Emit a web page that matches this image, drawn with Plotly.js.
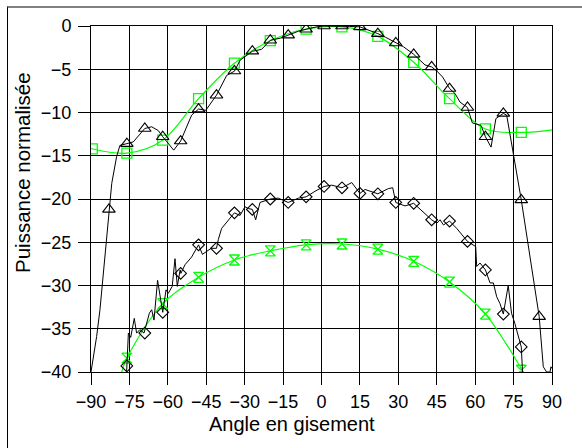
<!DOCTYPE html>
<html>
<head>
<meta charset="utf-8">
<script src="https://cdn.plot.ly/plotly-3.0.1.min.js"></script>
<style>
html,body{margin:0;padding:0;background:#fff;}
#wrap{position:relative;width:582px;height:448px;}
#chart{width:582px;height:448px;}
#frame{position:absolute;left:7px;top:6px;width:575px;height:442px;border-top:2px solid #808080;border-left:1px solid #000;pointer-events:none;box-sizing:border-box;}
</style>
</head>
<body>
<div id="wrap"><div id="chart"></div><div id="frame"></div></div>
<script>
// ---- Data ----
// Green smooth curve with square markers
const sqCurveX = [-90, -89.5, -76, -62, -48, -34, -20, -6, 8, 22, 36, 50, 64, 78, 90];
const sqCurveY = [-14.15, -14.2, -14.7, -13.2, -8.4, -4.3, -1.7, -0.35, -0.1, -1.2, -4.2, -8.4, -11.9, -12.3, -12.0];
const sqX = [-89.5, -76, -62, -48, -34, -20, -6, 8, 22, 36, 50, 64, 78];
const sqY = [-14.2, -14.7, -13.2, -8.4, -4.3, -1.7, -0.35, -0.1, -1.2, -4.2, -8.4, -11.9, -12.3];

// Black jagged curve with triangle markers
const triLineX = [-90, -87.8, -86.5, -84.5, -83, -81.9, -80, -78.7, -76, -73.5, -69, -66.3, -63.7, -62, -57.7, -55, -50.7, -48, -45.2, -41, -37, -34, -31.8, -27, -23.4, -20, -16, -13, -9, -6, -2, 1, 4, 8, 11, 15, 18, 22, 25, 29, 32, 36, 40.4, 43, 45, 47.3, 50, 52.1, 54.1, 57, 58.9, 62.3, 64, 66.2, 68.1, 71, 72.3, 78, 85, 86.6, 87.9, 89.2, 89.6, 90];
const triLineY = [-40, -35.9, -32.8, -26.3, -21.2, -18.2, -15.1, -13.8, -13.6, -13.4, -11.85, -11.65, -12.1, -12.8, -14.35, -13.3, -10.3, -9.6, -9.75, -8.0, -5.7, -5.23, -3.96, -2.92, -2.7, -1.65, -1.4, -1.07, -0.6, -0.38, -0.1, 0, 0, 0, -0.05, -0.1, -0.4, -0.88, -1.3, -1.96, -2.4, -3.27, -4.5, -4.73, -5.2, -5.9, -7.23, -7.8, -8.8, -9.42, -11.2, -11.5, -12.8, -14.0, -10.7, -10.1, -10.3, -20.1, -33.6, -39.4, -40, -40, -39.4, -39.6];
const triX = [-83, -76, -69, -62, -55, -48, -41, -34, -27, -20, -13, -6, 1, 8, 15, 22, 29, 36, 43, 50, 57, 64, 71, 78, 85];
const triY = [-21.2, -13.6, -11.85, -12.8, -13.3, -9.6, -8.0, -5.2, -2.9, -1.65, -1.05, -0.38, 0, 0, -0.1, -0.88, -1.96, -3.27, -4.73, -7.23, -9.42, -12.8, -10.1, -20.1, -33.6];

// Black jagged curve with diamond markers
const diaLineX = [-76.1, -75.4, -74.5, -73.1, -72.2, -70.9, -69.3, -67.2, -66.3, -65.4, -64.0, -62.8, -62, -60.7, -59.8, -58.3, -57.2, -56.3, -55.2, -54.9, -53.3, -50.7, -48, -46.5, -44.8, -43.1, -41, -40.3, -39.0, -36.4, -34, -31.8, -29.9, -28.6, -27, -25.7, -24, -22, -20, -16.9, -13, -9, -6, -2.5, 1, 4, 8, 11.8, 15, 17, 22, 26.1, 27.8, 29, 32.6, 36, 39.8, 43, 45, 46.3, 47.6, 50, 52.8, 57, 60.2, 60.6, 61.9, 64, 65.8, 67.1, 68.4, 69.7, 71, 72.9, 74.2, 75.5, 78, 78.5];
const diaLineY = [-40, -35.5, -36, -33.8, -35.5, -35.1, -35.5, -33.2, -32.8, -34.0, -29.4, -31.9, -33.1, -30.5, -30.9, -30.1, -26.9, -30.1, -28.2, -28.6, -27.6, -26.7, -25.3, -26.4, -26.0, -25.7, -25.7, -24.7, -23.4, -22.4, -21.6, -21.9, -20.9, -21.1, -21.2, -22.4, -20.4, -20.2, -20.0, -19.9, -20.4, -19.9, -19.75, -19.1, -18.55, -18.4, -18.7, -18.1, -19.35, -18.9, -19.4, -18.8, -18.7, -20.4, -20.8, -20.5, -21.5, -22.4, -22.8, -22.4, -23.0, -22.55, -23.4, -24.9, -25.5, -27.8, -27.4, -28.2, -29.7, -29.7, -31.3, -32.1, -33.3, -30.0, -33.2, -34.4, -37.1, -40];
const diaX = [-76, -69, -62, -55, -48, -41, -34, -27, -20, -13, -6, 1, 8, 15, 22, 29, 36, 43, 50, 57, 64, 71, 78];
const diaY = [-39.3, -35.5, -33.1, -28.6, -25.3, -25.7, -21.6, -21.2, -20.0, -20.4, -19.75, -18.55, -18.7, -19.35, -19.4, -20.4, -20.5, -22.4, -22.55, -24.9, -28.2, -33.3, -37.1];

// Green smooth curve with hourglass markers
const hgCurveX = [-78, -76, -62, -48, -34, -20, -6, 8, 22, 36, 50, 64, 78, 78.8];
const hgCurveY = [-40, -38.4, -32.1, -29.05, -27.05, -26.0, -25.3, -25.2, -25.8, -27.2, -29.6, -33.3, -39.6, -40];
const hgX = [-76, -62, -48, -34, -20, -6, 8, 22, 36, 50, 64, 78];
const hgY = [-38.4, -32.1, -29.05, -27.05, -26.0, -25.3, -25.2, -25.8, -27.2, -29.6, -33.3, -39.8];

const xTicks = [-90, -75, -60, -45, -30, -15, 0, 15, 30, 45, 60, 75, 90];
const yTicks = [-40, -35, -30, -25, -20, -15, -10, -5, 0];
const xTitle = 'Angle en gisement';
const yTitle = 'Puissance normalisée';

// ---- Styling ----
const GREEN = '#00ff00';
const BLACK = '#000000';
const FONT = 'Liberation Sans, Arial, Helvetica, sans-serif';

const traces = [
  {x: sqCurveX, y: sqCurveY, mode: 'lines', line: {color: GREEN, width: 1.2, shape: 'spline', smoothing: 1}, hoverinfo: 'skip'},
  {x: sqX, y: sqY, mode: 'markers', marker: {symbol: 'square-open', size: 10, color: GREEN, line: {width: 1.3, color: GREEN}}},
  {x: hgCurveX, y: hgCurveY, mode: 'lines', line: {color: GREEN, width: 1.2, shape: 'spline', smoothing: 1}, hoverinfo: 'skip'},
  {x: hgX, y: hgY, mode: 'markers', marker: {symbol: 'hourglass-open', size: 10, color: GREEN, line: {width: 1.3, color: GREEN}}},
  {x: triLineX, y: triLineY, mode: 'lines', line: {color: BLACK, width: 1}},
  {x: triX, y: triY, mode: 'markers', marker: {symbol: 'triangle-up-open', size: 11, color: BLACK, line: {width: 1.1, color: BLACK}}},
  {x: diaLineX, y: diaLineY, mode: 'lines', line: {color: BLACK, width: 1}},
  {x: diaX, y: diaY, mode: 'markers', marker: {symbol: 'diamond-open', size: 9, color: BLACK, line: {width: 1.1, color: BLACK}}}
];

const W = 582, H = 448;
const M = {l: 91, r: 30, t: 26, b: 76};
const pw = W - M.l - M.r, ph = H - M.t - M.b;
function px2paperX(p) { return (p - M.l) / pw; }
function px2paperY(p) { return (H - M.b - p) / ph; }

const layout = {
  width: W, height: H,
  margin: M,
  paper_bgcolor: '#ffffff',
  plot_bgcolor: '#ffffff',
  showlegend: false,
  font: {family: FONT, size: 18, color: BLACK},
  xaxis: {
    range: [-90, 90], tickmode: 'array', tickvals: xTicks,
    ticks: 'outside', ticklen: 12, tickwidth: 1, tickcolor: BLACK,
    showgrid: true, gridcolor: BLACK, gridwidth: 1,
    showline: true, linecolor: BLACK, linewidth: 1, mirror: true,
    zeroline: false, tickfont: {family: FONT, size: 18, color: BLACK},
    ticklabelstandoff: 1
  },
  yaxis: {
    range: [-40, 0], tickmode: 'array', tickvals: yTicks,
    ticks: 'outside', ticklen: 12, tickwidth: 1, tickcolor: BLACK,
    showgrid: true, gridcolor: BLACK, gridwidth: 1,
    showline: true, linecolor: BLACK, linewidth: 1, mirror: true,
    zeroline: false, tickfont: {family: FONT, size: 18, color: BLACK},
    ticklabelstandoff: 3
  },
  annotations: [
    {text: xTitle, xref: 'paper', yref: 'paper', x: px2paperX(292), y: px2paperY(424),
     xanchor: 'center', yanchor: 'middle', showarrow: false, font: {family: FONT, size: 20, color: BLACK}},
    {text: yTitle, xref: 'paper', yref: 'paper', x: px2paperX(22), y: px2paperY(173), textangle: -90,
     xanchor: 'center', yanchor: 'middle', showarrow: false, font: {family: FONT, size: 20.5, color: BLACK}}
  ]
};

Plotly.newPlot('chart', traces, layout, {displayModeBar: false, staticPlot: true});
</script>
</body>
</html>
